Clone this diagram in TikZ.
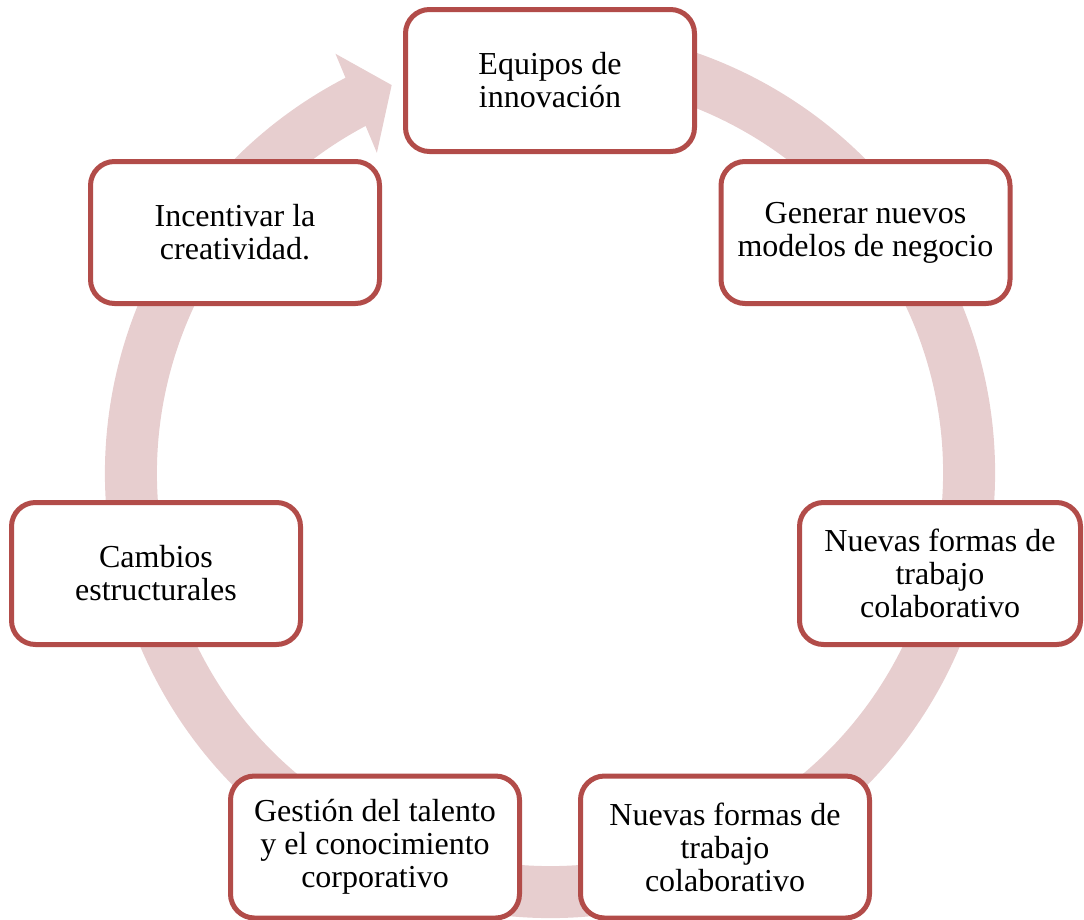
\documentclass[tikz,border=0pt]{standalone}
\usepackage{fontspec}
\setmainfont{Liberation Serif}
\definecolor{ringcol}{RGB}{231,206,207}
\definecolor{boxline}{RGB}{178,76,73}
\begin{document}
\begin{tikzpicture}[x=1pt,y=-1pt,
  cyclebox/.style={draw=boxline, line width=5pt, fill=white, rounded corners=24pt,
    minimum width=289pt, minimum height=142pt, inner sep=0pt, align=center,
    font=\fontsize{32}{33}\selectfont},
  ringband/.style={draw=ringcol, line width=52pt, line cap=butt},
  ringhead/.style={fill=ringcol, draw=none}]
\useasboundingbox (0,0) rectangle (1084,919);

% circular band running clockwise, ending in an arrow head
\coordinate (c) at (550,473);
\draw[ringband] ([shift={(c)}] -117.0:419) arc[start angle=-117.0, end angle=-460, radius=419];
\coordinate (hwo) at ([shift={(c)}] -117.1:471);
\coordinate (hwi) at ([shift={(c)}] -118.4:364);
\coordinate (htip) at ([shift={(c)}] -112.2:419);
\fill[ringhead] (hwo) -- (htip) -- (hwi) -- cycle;

% the seven stages
\node[cyclebox] (equipos) at (550,80.5) {Equipos de\\innovación};
\node[cyclebox] (generar) at (865.5,232.5) {Generar nuevos\\modelos de negocio};
\node[cyclebox, minimum width=281pt] (formasd) at (940,573.5) {Nuevas formas de\\trabajo\\colaborativo};
\node[cyclebox] (formasb) at (725,847) {Nuevas formas de\\trabajo\\colaborativo};
\node[cyclebox] (gestion) at (375,847) {Gestión del talento\\y el conocimiento\\corporativo};
\node[cyclebox] (cambios) at (156,573.5) {Cambios\\estructurales};
\node[cyclebox] (incentivar) at (235,232.5) {Incentivar la\\creatividad.};
\end{tikzpicture}
\end{document}
